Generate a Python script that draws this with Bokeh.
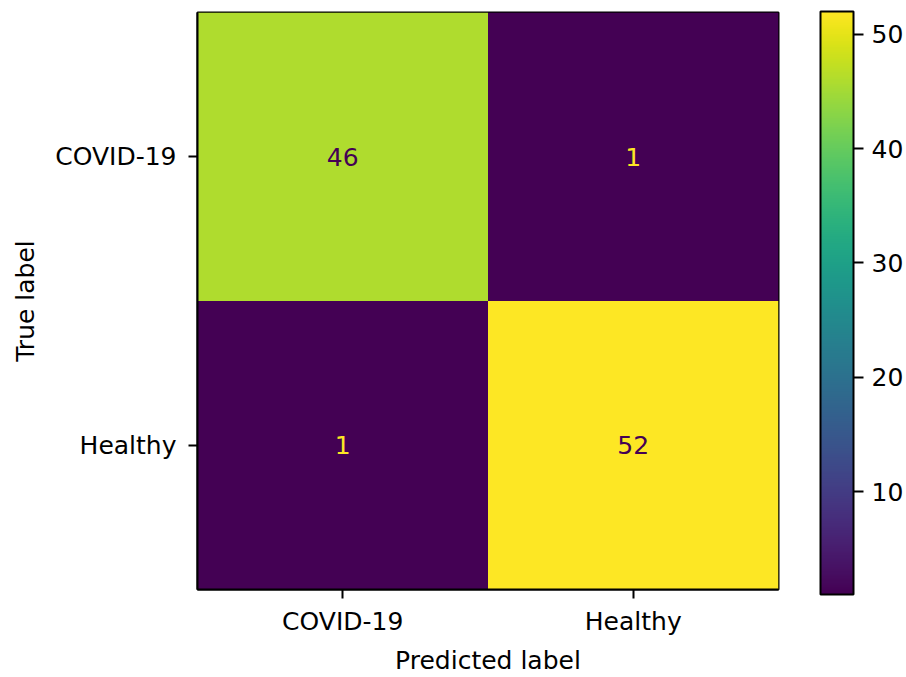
from bokeh.plotting import figure
from bokeh.models import ColumnDataSource, LinearColorMapper, ColorBar, FixedTicker
from bokeh.palettes import Viridis256
from bokeh.embed import file_html
from bokeh.resources import INLINE
from bokeh.core.properties import value

# Confusion matrix: rows = true label, columns = predicted label
classes = ["COVID-19", "Healthy"]
row_covid = [46, 1]
row_healthy = [1, 52]
counts = [row_covid, row_healthy]
cbar_ticks = [10, 20, 30, 40, 50]

FONT = "DejaVu Sans"
FSIZE = "25px"

vmin = min(min(r) for r in counts)
vmax = max(max(r) for r in counts)
mapper = LinearColorMapper(palette=Viridis256, low=vmin, high=vmax)

# Text colour flips between the two ends of the colormap, depending on cell brightness
thresh = (vmin + vmax) / 2.0
xs, ys, vals, labels, tcolors = [], [], [], [], []
for i, row in enumerate(counts):
    for j, v in enumerate(row):
        xs.append(j)
        ys.append(i)
        vals.append(v)
        labels.append(str(v))
        tcolors.append(Viridis256[-1] if v < thresh else Viridis256[0])

src = ColumnDataSource(dict(x=xs, y=ys, v=vals, t=labels, tc=tcolors))

p = figure(width=906, height=677,
           x_range=(-0.5, 1.5), y_range=(1.5, -0.5),
           output_backend="svg", toolbar_location=None,
           min_border_left=197, min_border_right=124,
           min_border_top=12, min_border_bottom=84)

p.rect(x="x", y="y", width=1, height=1, source=src,
       fill_color={"field": "v", "transform": mapper}, line_color=None)
p.text(x="x", y="y", text="t", source=src, text_color="tc",
       text_align="center", text_baseline="middle",
       text_font=value(FONT), text_font_size=FSIZE)

p.grid.visible = False
p.outline_line_color = "black"
p.outline_line_width = 2

for ax in (p.xaxis[0], p.yaxis[0]):
    ax.ticker = FixedTicker(ticks=[0, 1])
    ax.major_label_overrides = {0: classes[0], 1: classes[1]}
    ax.minor_tick_line_color = None
    ax.major_tick_in = 0
    ax.major_tick_out = 9
    ax.major_tick_line_width = 2
    ax.major_tick_line_color = "black"
    ax.axis_line_color = "black"
    ax.axis_line_width = 2
    ax.major_label_text_font = FONT
    ax.major_label_text_font_size = FSIZE
    ax.major_label_text_color = "black"
    ax.axis_label_text_font = FONT
    ax.axis_label_text_font_size = FSIZE
    ax.axis_label_text_font_style = "normal"
    ax.axis_label_text_color = "black"

p.xaxis.axis_label = "Predicted label"
p.yaxis.axis_label = "True label"
p.xaxis.major_label_standoff = 8
p.xaxis.axis_label_standoff = 7
p.yaxis.major_label_standoff = 12
p.yaxis.axis_label_standoff = 12

cbar = ColorBar(color_mapper=mapper, ticker=FixedTicker(ticks=cbar_ticks),
                location=(42, -5),
                width=33, height=583, padding=0, margin=0,
                bar_line_color="black", bar_line_width=2,
                major_tick_in=0, major_tick_out=10,
                major_tick_line_color="black", major_tick_line_width=2,
                minor_tick_line_color=None,
                label_standoff=8,
                major_label_text_font=FONT,
                major_label_text_font_size=FSIZE,
                major_label_text_color="black",
                background_fill_color=None, border_line_color=None)
p.add_layout(cbar, "right")

open("out.html", "w").write(file_html(p, INLINE))
